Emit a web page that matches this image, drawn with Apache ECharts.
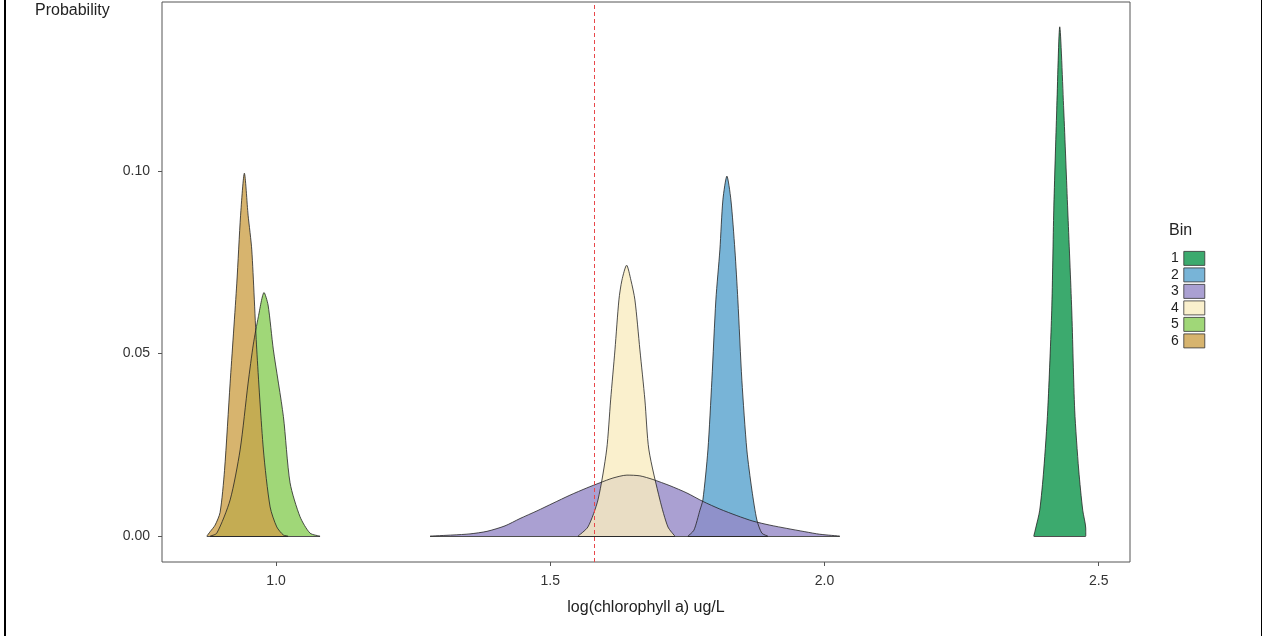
<!DOCTYPE html>
<html>
<head>
<meta charset="utf-8">
<script src="https://cdn.jsdelivr.net/npm/echarts@6/dist/echarts.min.js"></script>
<style>
  html, body { margin: 0; padding: 0; background: #fff; }
  #chart { width: 1262px; height: 636px; }
</style>
</head>
<body>
<div id="chart"></div>
<script>
// density curves, one x/y pair of arrays per bin
const bins = ["1", "2", "3", "4", "5", "6"];
const fills = [
  "rgba(11,149,74,0.8)",
  "rgba(86,161,205,0.8)",
  "rgba(149,136,199,0.8)",
  "rgba(249,236,193,0.8)",
  "rgba(136,205,86,0.8)",
  "rgba(205,161,74,0.8)"
];

const bin1X = [2.3815, 2.3851, 2.3924, 2.3997, 2.4070, 2.4143, 2.4180, 2.4234, 2.4289, 2.4362, 2.4435, 2.4508, 2.4562, 2.4635, 2.4708, 2.4763, 2.4764];
const bin1Y = [0, 0.0022, 0.0071, 0.0181, 0.0345, 0.0619, 0.0893, 0.1167, 0.1395, 0.1167, 0.0893, 0.0619, 0.0345, 0.0181, 0.0071, 0.0022, 0];

const bin2X = [1.7509, 1.7618, 1.7728, 1.7782, 1.7874, 1.7946, 1.8019, 1.8092, 1.8147, 1.8220, 1.8293, 1.8366, 1.8420, 1.8493, 1.8584, 1.8676, 1.8767, 1.8858, 1.8967];
const bin2Y = [0, 0.0016, 0.0071, 0.0099, 0.0236, 0.0427, 0.0647, 0.0784, 0.0921, 0.0986, 0.0921, 0.0784, 0.0647, 0.0427, 0.0236, 0.0126, 0.0044, 0.0008, 0];

const bin3X = [1.2807, 1.3226, 1.3536, 1.3846, 1.4174, 1.4447, 1.4757, 1.5049, 1.5358, 1.5668, 1.5905, 1.6142, 1.6397, 1.6634, 1.6871, 1.7181, 1.7491, 1.7782, 1.8092, 1.8402, 1.8694, 1.9004, 1.9313, 1.9642, 1.9915, 2.0279];
const bin3Y = [0, 0.0003, 0.0006, 0.0013, 0.0028, 0.0048, 0.0069, 0.0090, 0.0112, 0.0132, 0.0146, 0.0159, 0.0167, 0.0165, 0.0155, 0.0138, 0.0118, 0.0095, 0.0074, 0.0056, 0.0041, 0.0030, 0.0021, 0.0012, 0.0005, 0];

const bin4X = [1.5504, 1.5686, 1.5869, 1.6027, 1.6100, 1.6179, 1.6251, 1.6306, 1.6392, 1.6470, 1.6543, 1.6634, 1.6725, 1.6798, 1.6999, 1.7145, 1.7272];
const bin4Y = [0, 0.0025, 0.0099, 0.0236, 0.0373, 0.0510, 0.0647, 0.0701, 0.0742, 0.0701, 0.0647, 0.0510, 0.0373, 0.0236, 0.0099, 0.0025, 0];

const bin5X = [0.8797, 0.8919, 0.9162, 0.9344, 0.9490, 0.9586, 0.9677, 0.9781, 0.9854, 0.9951, 1.0133, 1.0255, 1.0437, 1.0620, 1.0802];
const bin5Y = [0, 0.0008, 0.0099, 0.0236, 0.0419, 0.0526, 0.0601, 0.0667, 0.0633, 0.0510, 0.0328, 0.0146, 0.0053, 0.0008, 0];

const bin6X = [0.8737, 0.8797, 0.8888, 0.8979, 0.9060, 0.9162, 0.9284, 0.9353, 0.9422, 0.9490, 0.9557, 0.9648, 0.9769, 0.9891, 1.0013, 1.0133, 1.0219];
const bin6Y = [0, 0.0012, 0.0030, 0.0065, 0.0180, 0.0419, 0.0693, 0.0879, 0.0994, 0.0879, 0.0784, 0.0510, 0.0236, 0.0080, 0.0025, 0.0003, 0];

const xTicks = [1.0, 1.5, 2.0, 2.5];
const yTicks = [0, 0.05, 0.10];
const cutoff = 1.58; // red dashed line

const allX = [bin1X, bin2X, bin3X, bin4X, bin5X, bin6X];
const allY = [bin1Y, bin2Y, bin3Y, bin4Y, bin5Y, bin6Y];

const font = "Liberation Sans, Arial, sans-serif";
const chart = echarts.init(document.getElementById("chart"));

const series = bins.map(function (b, i) {
  const xs = allX[i];
  const ys = allY[i];
  const pts = xs.map(function (x, k) { return [x, ys[k]]; });
  const s = {
    name: b,
    type: "line",
    data: pts,
    smooth: 0.25,
    symbol: "none",
    itemStyle: { color: fills[i] },
    lineStyle: { color: "#222", width: 0.8 },
    areaStyle: { color: fills[i], opacity: 1 },
    // bottom edge of the polygon
    markLine: {
      silent: true,
      symbol: "none",
      label: { show: false },
      lineStyle: { color: "#222", width: 0.8, type: "solid" },
      data: [[{ coord: [xs[0], 0] }, { coord: [xs[xs.length - 1], 0] }]]
    }
  };
  if (i === bins.length - 1) {
    s.markLine.data.push({
      xAxis: cutoff,
      lineStyle: { color: "#e8474a", width: 1, type: [4, 3] }
    });
  }
  return s;
});

const option = {
  animation: false,
  textStyle: { fontFamily: font },
  grid: {
    left: 162, top: 2, right: 132, bottom: 74,
    show: true, borderColor: "#555", borderWidth: 1, backgroundColor: "transparent"
  },
  xAxis: {
    type: "value",
    min: 0.792, max: 2.557,
    name: "log(chlorophyll a) ug/L",
    nameLocation: "middle",
    nameGap: 38,
    nameTextStyle: { color: "#222", fontSize: 16, fontFamily: font },
    axisLine: { show: false, onZero: false },
    axisTick: { show: true, length: 4, lineStyle: { color: "#555" }, customValues: xTicks },
    axisLabel: {
      color: "#333", fontSize: 14, margin: 12, fontFamily: font,
      customValues: xTicks,
      formatter: function (v) { return v.toFixed(1); }
    },
    splitLine: { show: false }
  },
  yAxis: {
    type: "value",
    min: -0.0071, max: 0.1463,
    axisLine: { show: false, onZero: false },
    axisTick: { show: true, length: 4, lineStyle: { color: "#555" }, customValues: yTicks },
    axisLabel: {
      color: "#333", fontSize: 14, margin: 12, fontFamily: font,
      customValues: yTicks,
      formatter: function (v) { return v.toFixed(2); }
    },
    splitLine: { show: false }
  },
  legend: {
    data: bins,
    orient: "vertical",
    left: 1166,
    top: 246,
    align: "right",
    icon: "rect",
    itemWidth: 21,
    itemHeight: 14,
    itemGap: 1.7,
    itemStyle: { borderColor: "#333", borderWidth: 0.8 },
    textStyle: { color: "#222", fontSize: 14, lineHeight: 14, fontFamily: font, padding: [0, 0, 0, 0] }
  },
  graphic: [
    { type: "text", left: 35, top: 3, style: { text: "Probability", fill: "#222", font: "16px " + font } },
    { type: "text", left: 1169, top: 223, style: { text: "Bin", fill: "#222", font: "16px " + font } },
    { type: "rect", left: 4, top: 0, shape: { width: 2, height: 636 }, style: { fill: "#000" } },
    { type: "rect", left: 1261, top: 0, shape: { width: 1, height: 636 }, style: { fill: "#000" } }
  ],
  series: series
};

chart.setOption(option);
</script>
</body>
</html>
